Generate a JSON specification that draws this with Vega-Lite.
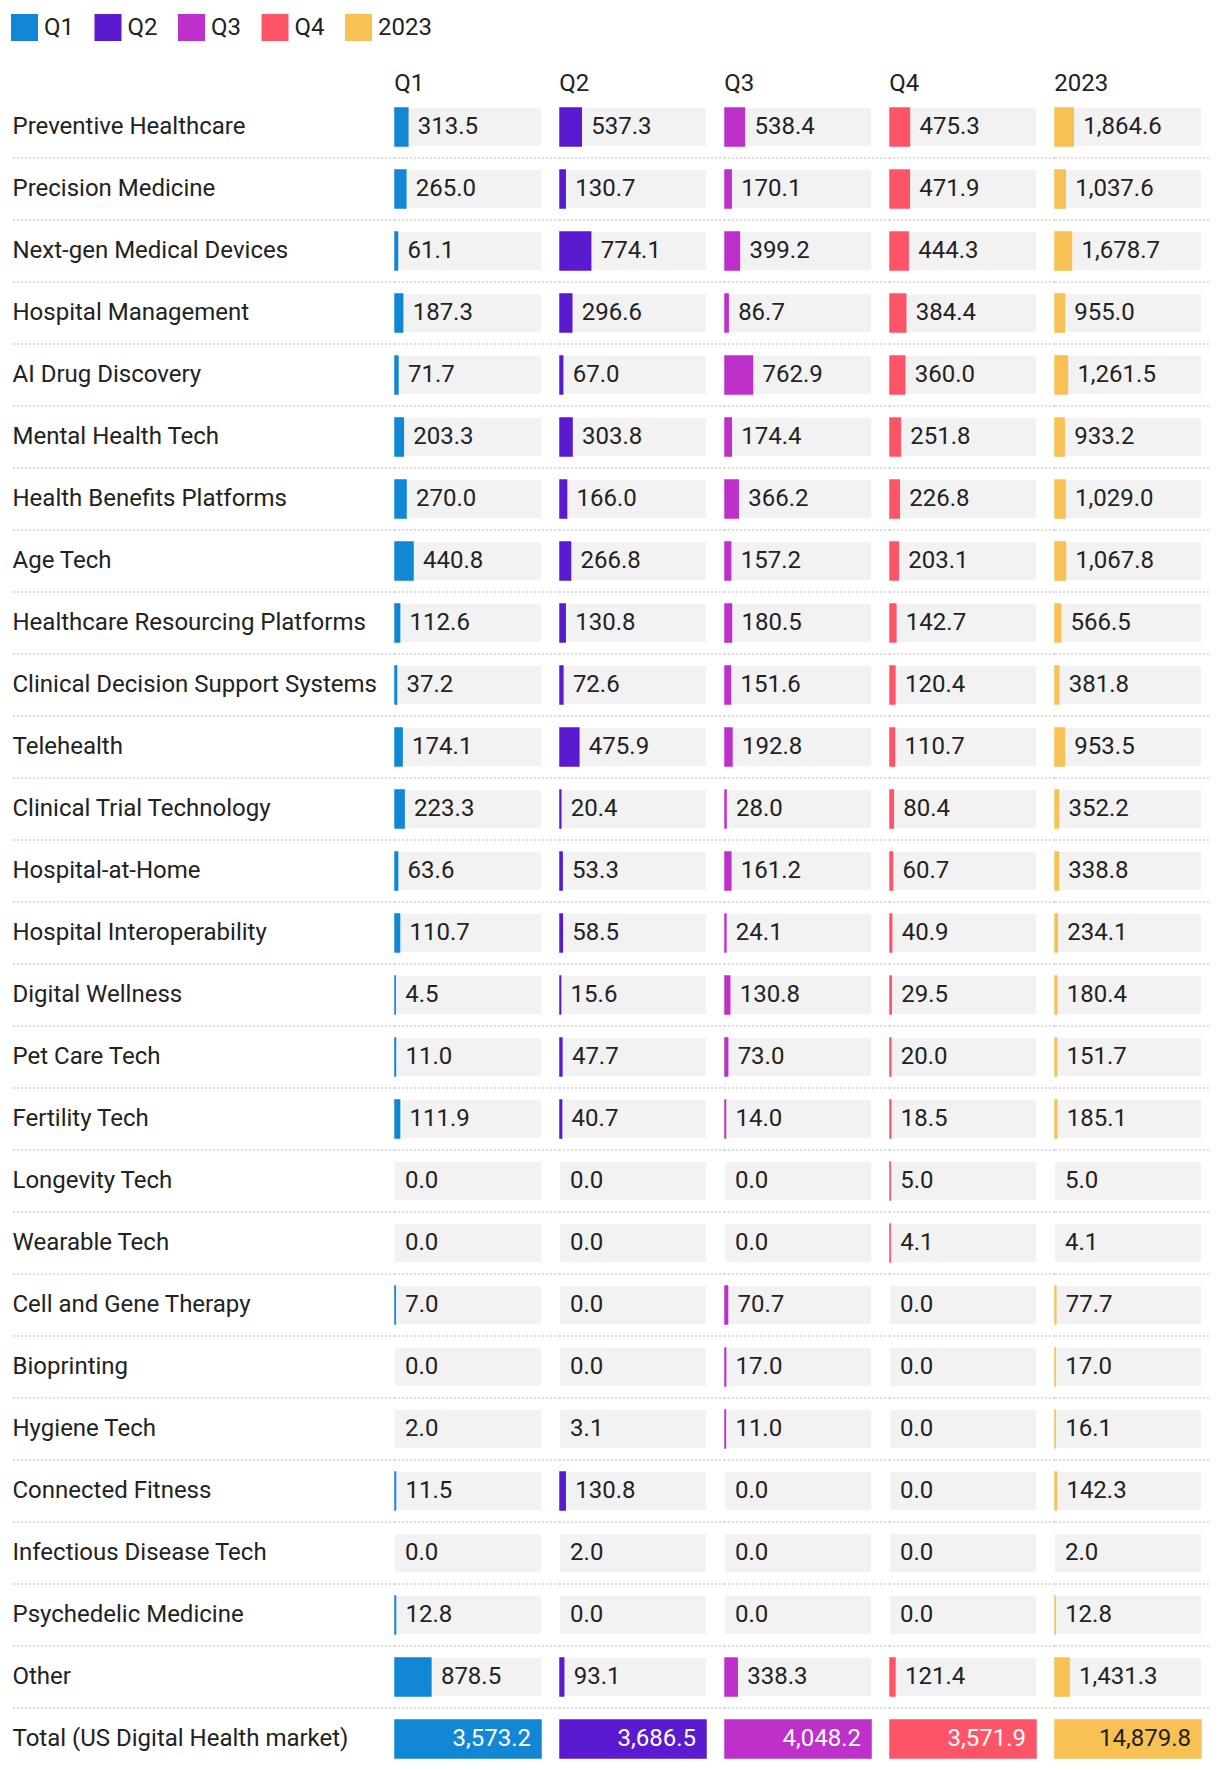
{
  "$schema": "https://vega.github.io/schema/vega-lite/v6.json",
  "padding": {"left": 10, "top": 14, "right": 0, "bottom": 0},
  "bounds": "flush",
  "config": {
    "font": "Roboto",
    "view": {"stroke": null},
    "concat": {"spacing": 0},
    "title": {"anchor": "start", "fontSize": 24, "fontWeight": "normal", "color": "#222", "offset": 0.5, "font": "Roboto"},
    "legend": {"orient": "top", "direction": "horizontal", "title": null, "symbolType": "square", "symbolSize": 729, "symbolStrokeWidth": 0, "labelFontSize": 24, "labelColor": "#222", "labelOffset": 6, "columnPadding": 20.5, "offset": 30, "labelFont": "Roboto"}
  },
  "resolve": {"scale": {"x": "independent", "y": "independent", "color": "shared"}, "legend": {"color": "shared"}},
  "datasets": {
    "d": [
      {"cat": "Preventive Healthcare", "period": "Q1", "value": 313.5},
      {"cat": "Preventive Healthcare", "period": "Q2", "value": 537.3},
      {"cat": "Preventive Healthcare", "period": "Q3", "value": 538.4},
      {"cat": "Preventive Healthcare", "period": "Q4", "value": 475.3},
      {"cat": "Preventive Healthcare", "period": "2023", "value": 1864.6},
      {"cat": "Precision Medicine", "period": "Q1", "value": 265.0},
      {"cat": "Precision Medicine", "period": "Q2", "value": 130.7},
      {"cat": "Precision Medicine", "period": "Q3", "value": 170.1},
      {"cat": "Precision Medicine", "period": "Q4", "value": 471.9},
      {"cat": "Precision Medicine", "period": "2023", "value": 1037.6},
      {"cat": "Next-gen Medical Devices", "period": "Q1", "value": 61.1},
      {"cat": "Next-gen Medical Devices", "period": "Q2", "value": 774.1},
      {"cat": "Next-gen Medical Devices", "period": "Q3", "value": 399.2},
      {"cat": "Next-gen Medical Devices", "period": "Q4", "value": 444.3},
      {"cat": "Next-gen Medical Devices", "period": "2023", "value": 1678.7},
      {"cat": "Hospital Management", "period": "Q1", "value": 187.3},
      {"cat": "Hospital Management", "period": "Q2", "value": 296.6},
      {"cat": "Hospital Management", "period": "Q3", "value": 86.7},
      {"cat": "Hospital Management", "period": "Q4", "value": 384.4},
      {"cat": "Hospital Management", "period": "2023", "value": 955.0},
      {"cat": "AI Drug Discovery", "period": "Q1", "value": 71.7},
      {"cat": "AI Drug Discovery", "period": "Q2", "value": 67.0},
      {"cat": "AI Drug Discovery", "period": "Q3", "value": 762.9},
      {"cat": "AI Drug Discovery", "period": "Q4", "value": 360.0},
      {"cat": "AI Drug Discovery", "period": "2023", "value": 1261.5},
      {"cat": "Mental Health Tech", "period": "Q1", "value": 203.3},
      {"cat": "Mental Health Tech", "period": "Q2", "value": 303.8},
      {"cat": "Mental Health Tech", "period": "Q3", "value": 174.4},
      {"cat": "Mental Health Tech", "period": "Q4", "value": 251.8},
      {"cat": "Mental Health Tech", "period": "2023", "value": 933.2},
      {"cat": "Health Benefits Platforms", "period": "Q1", "value": 270.0},
      {"cat": "Health Benefits Platforms", "period": "Q2", "value": 166.0},
      {"cat": "Health Benefits Platforms", "period": "Q3", "value": 366.2},
      {"cat": "Health Benefits Platforms", "period": "Q4", "value": 226.8},
      {"cat": "Health Benefits Platforms", "period": "2023", "value": 1029.0},
      {"cat": "Age Tech", "period": "Q1", "value": 440.8},
      {"cat": "Age Tech", "period": "Q2", "value": 266.8},
      {"cat": "Age Tech", "period": "Q3", "value": 157.2},
      {"cat": "Age Tech", "period": "Q4", "value": 203.1},
      {"cat": "Age Tech", "period": "2023", "value": 1067.8},
      {"cat": "Healthcare Resourcing Platforms", "period": "Q1", "value": 112.6},
      {"cat": "Healthcare Resourcing Platforms", "period": "Q2", "value": 130.8},
      {"cat": "Healthcare Resourcing Platforms", "period": "Q3", "value": 180.5},
      {"cat": "Healthcare Resourcing Platforms", "period": "Q4", "value": 142.7},
      {"cat": "Healthcare Resourcing Platforms", "period": "2023", "value": 566.5},
      {"cat": "Clinical Decision Support Systems", "period": "Q1", "value": 37.2},
      {"cat": "Clinical Decision Support Systems", "period": "Q2", "value": 72.6},
      {"cat": "Clinical Decision Support Systems", "period": "Q3", "value": 151.6},
      {"cat": "Clinical Decision Support Systems", "period": "Q4", "value": 120.4},
      {"cat": "Clinical Decision Support Systems", "period": "2023", "value": 381.8},
      {"cat": "Telehealth", "period": "Q1", "value": 174.1},
      {"cat": "Telehealth", "period": "Q2", "value": 475.9},
      {"cat": "Telehealth", "period": "Q3", "value": 192.8},
      {"cat": "Telehealth", "period": "Q4", "value": 110.7},
      {"cat": "Telehealth", "period": "2023", "value": 953.5},
      {"cat": "Clinical Trial Technology", "period": "Q1", "value": 223.3},
      {"cat": "Clinical Trial Technology", "period": "Q2", "value": 20.4},
      {"cat": "Clinical Trial Technology", "period": "Q3", "value": 28.0},
      {"cat": "Clinical Trial Technology", "period": "Q4", "value": 80.4},
      {"cat": "Clinical Trial Technology", "period": "2023", "value": 352.2},
      {"cat": "Hospital-at-Home", "period": "Q1", "value": 63.6},
      {"cat": "Hospital-at-Home", "period": "Q2", "value": 53.3},
      {"cat": "Hospital-at-Home", "period": "Q3", "value": 161.2},
      {"cat": "Hospital-at-Home", "period": "Q4", "value": 60.7},
      {"cat": "Hospital-at-Home", "period": "2023", "value": 338.8},
      {"cat": "Hospital Interoperability", "period": "Q1", "value": 110.7},
      {"cat": "Hospital Interoperability", "period": "Q2", "value": 58.5},
      {"cat": "Hospital Interoperability", "period": "Q3", "value": 24.1},
      {"cat": "Hospital Interoperability", "period": "Q4", "value": 40.9},
      {"cat": "Hospital Interoperability", "period": "2023", "value": 234.1},
      {"cat": "Digital Wellness", "period": "Q1", "value": 4.5},
      {"cat": "Digital Wellness", "period": "Q2", "value": 15.6},
      {"cat": "Digital Wellness", "period": "Q3", "value": 130.8},
      {"cat": "Digital Wellness", "period": "Q4", "value": 29.5},
      {"cat": "Digital Wellness", "period": "2023", "value": 180.4},
      {"cat": "Pet Care Tech", "period": "Q1", "value": 11.0},
      {"cat": "Pet Care Tech", "period": "Q2", "value": 47.7},
      {"cat": "Pet Care Tech", "period": "Q3", "value": 73.0},
      {"cat": "Pet Care Tech", "period": "Q4", "value": 20.0},
      {"cat": "Pet Care Tech", "period": "2023", "value": 151.7},
      {"cat": "Fertility Tech", "period": "Q1", "value": 111.9},
      {"cat": "Fertility Tech", "period": "Q2", "value": 40.7},
      {"cat": "Fertility Tech", "period": "Q3", "value": 14.0},
      {"cat": "Fertility Tech", "period": "Q4", "value": 18.5},
      {"cat": "Fertility Tech", "period": "2023", "value": 185.1},
      {"cat": "Longevity Tech", "period": "Q1", "value": 0.0},
      {"cat": "Longevity Tech", "period": "Q2", "value": 0.0},
      {"cat": "Longevity Tech", "period": "Q3", "value": 0.0},
      {"cat": "Longevity Tech", "period": "Q4", "value": 5.0},
      {"cat": "Longevity Tech", "period": "2023", "value": 5.0},
      {"cat": "Wearable Tech", "period": "Q1", "value": 0.0},
      {"cat": "Wearable Tech", "period": "Q2", "value": 0.0},
      {"cat": "Wearable Tech", "period": "Q3", "value": 0.0},
      {"cat": "Wearable Tech", "period": "Q4", "value": 4.1},
      {"cat": "Wearable Tech", "period": "2023", "value": 4.1},
      {"cat": "Cell and Gene Therapy", "period": "Q1", "value": 7.0},
      {"cat": "Cell and Gene Therapy", "period": "Q2", "value": 0.0},
      {"cat": "Cell and Gene Therapy", "period": "Q3", "value": 70.7},
      {"cat": "Cell and Gene Therapy", "period": "Q4", "value": 0.0},
      {"cat": "Cell and Gene Therapy", "period": "2023", "value": 77.7},
      {"cat": "Bioprinting", "period": "Q1", "value": 0.0},
      {"cat": "Bioprinting", "period": "Q2", "value": 0.0},
      {"cat": "Bioprinting", "period": "Q3", "value": 17.0},
      {"cat": "Bioprinting", "period": "Q4", "value": 0.0},
      {"cat": "Bioprinting", "period": "2023", "value": 17.0},
      {"cat": "Hygiene Tech", "period": "Q1", "value": 2.0},
      {"cat": "Hygiene Tech", "period": "Q2", "value": 3.1},
      {"cat": "Hygiene Tech", "period": "Q3", "value": 11.0},
      {"cat": "Hygiene Tech", "period": "Q4", "value": 0.0},
      {"cat": "Hygiene Tech", "period": "2023", "value": 16.1},
      {"cat": "Connected Fitness", "period": "Q1", "value": 11.5},
      {"cat": "Connected Fitness", "period": "Q2", "value": 130.8},
      {"cat": "Connected Fitness", "period": "Q3", "value": 0.0},
      {"cat": "Connected Fitness", "period": "Q4", "value": 0.0},
      {"cat": "Connected Fitness", "period": "2023", "value": 142.3},
      {"cat": "Infectious Disease Tech", "period": "Q1", "value": 0.0},
      {"cat": "Infectious Disease Tech", "period": "Q2", "value": 2.0},
      {"cat": "Infectious Disease Tech", "period": "Q3", "value": 0.0},
      {"cat": "Infectious Disease Tech", "period": "Q4", "value": 0.0},
      {"cat": "Infectious Disease Tech", "period": "2023", "value": 2.0},
      {"cat": "Psychedelic Medicine", "period": "Q1", "value": 12.8},
      {"cat": "Psychedelic Medicine", "period": "Q2", "value": 0.0},
      {"cat": "Psychedelic Medicine", "period": "Q3", "value": 0.0},
      {"cat": "Psychedelic Medicine", "period": "Q4", "value": 0.0},
      {"cat": "Psychedelic Medicine", "period": "2023", "value": 12.8},
      {"cat": "Other", "period": "Q1", "value": 878.5},
      {"cat": "Other", "period": "Q2", "value": 93.1},
      {"cat": "Other", "period": "Q3", "value": 338.3},
      {"cat": "Other", "period": "Q4", "value": 121.4},
      {"cat": "Other", "period": "2023", "value": 1431.3},
      {"cat": "Total (US Digital Health market)", "period": "Q1", "value": 3573.2},
      {"cat": "Total (US Digital Health market)", "period": "Q2", "value": 3686.5},
      {"cat": "Total (US Digital Health market)", "period": "Q3", "value": 4048.2},
      {"cat": "Total (US Digital Health market)", "period": "Q4", "value": 3571.9},
      {"cat": "Total (US Digital Health market)", "period": "2023", "value": 14879.8}
    ]
  },
  "hconcat": [
    {
      "width": 384, "height": 1674,
      "title": {"text": " "},
      "data": {"name": "d"},
      "transform": [{"filter": "datum.period === 'Q1'"}],
      "layer": [
        {
          "mark": {"type": "rule", "color": "#d2d2d2", "strokeDash": [2, 2], "strokeWidth": 1.5},
          "encoding": {
            "y": {"field": "cat", "type": "nominal", "sort": null, "bandPosition": 1.316, "scale": {"paddingInner": 0.387, "paddingOuter": 0.194},
              "axis": {"title": null, "domain": false, "ticks": false, "bandPosition": 0.5, "labelAlign": "left", "labelBaseline": "middle", "labelPadding": -1, "labelFontSize": 24, "labelColor": "#222", "labelLimit": 500, "labelFont": "Roboto"}},
            "strokeOpacity": {"condition": {"test": "datum.cat === 'Total (US Digital Health market)'", "value": 0}, "value": 1}
          }
        }
      ]
    },
    {
      "width": 165, "height": 1674,
      "title": {"text": "Q1"},
      "data": {"name": "d"},
      "transform": [{"filter": "datum.period === 'Q1'"}, {"joinaggregate": [{"op": "max", "field": "value", "as": "colTotal"}]}],
      "encoding": {"y": {"field": "cat", "type": "nominal", "sort": null, "axis": null, "scale": {"paddingInner": 0.387, "paddingOuter": 0.194}}},
      "layer": [
        {"mark": {"type": "rule", "color": "#d2d2d2", "strokeDash": [2, 2], "strokeWidth": 1.5}, "encoding": {"y": {"field": "cat", "type": "nominal", "sort": null, "axis": null, "bandPosition": 1.316}, "strokeOpacity": {"condition": {"test": "datum.cat === 'Total (US Digital Health market)'", "value": 0}, "value": 1}}},
        {"mark": {"type": "bar", "color": "#f2f2f2"}, "encoding": {"x": {"field": "colTotal", "type": "quantitative", "axis": null, "scale": {"range": [0, 146], "nice": false, "zero": true}}}},
        {"transform": [{"filter": "datum.value / datum.colTotal > 0.00085"}], "mark": {"type": "bar", "stroke": "#1287d5", "strokeWidth": 1.5}, "encoding": {"x": {"field": "value", "type": "quantitative", "axis": null}, "color": {"field": "period", "type": "nominal", "scale": {"domain": ["Q1", "Q2", "Q3", "Q4", "2023"], "range": ["#1287d5", "#5a1acf", "#bf2fca", "#fe5468", "#f7c154"]}}}},
        {"transform": [{"filter": "datum.cat !== 'Total (US Digital Health market)'"}], "mark": {"type": "text", "align": "left", "baseline": "middle", "dx": 10, "fontSize": 24, "color": "#222"}, "encoding": {"x": {"field": "value", "type": "quantitative", "axis": null}, "text": {"field": "value", "type": "quantitative", "format": ",.1f"}}},
        {"transform": [{"filter": "datum.cat === 'Total (US Digital Health market)'"}], "mark": {"type": "text", "align": "right", "baseline": "middle", "dx": -10, "fontSize": 24, "color": "#ffffff"}, "encoding": {"x": {"field": "value", "type": "quantitative", "axis": null}, "text": {"field": "value", "type": "quantitative", "format": ",.1f"}}}
      ]
    },
    {
      "width": 165, "height": 1674,
      "title": {"text": "Q2"},
      "data": {"name": "d"},
      "transform": [{"filter": "datum.period === 'Q2'"}, {"joinaggregate": [{"op": "max", "field": "value", "as": "colTotal"}]}],
      "encoding": {"y": {"field": "cat", "type": "nominal", "sort": null, "axis": null, "scale": {"paddingInner": 0.387, "paddingOuter": 0.194}}},
      "layer": [
        {"mark": {"type": "rule", "color": "#d2d2d2", "strokeDash": [2, 2], "strokeWidth": 1.5}, "encoding": {"y": {"field": "cat", "type": "nominal", "sort": null, "axis": null, "bandPosition": 1.316}, "strokeOpacity": {"condition": {"test": "datum.cat === 'Total (US Digital Health market)'", "value": 0}, "value": 1}}},
        {"mark": {"type": "bar", "color": "#f2f2f2"}, "encoding": {"x": {"field": "colTotal", "type": "quantitative", "axis": null, "scale": {"range": [0, 146], "nice": false, "zero": true}}}},
        {"transform": [{"filter": "datum.value / datum.colTotal > 0.00085"}], "mark": {"type": "bar", "stroke": "#5a1acf", "strokeWidth": 1.5}, "encoding": {"x": {"field": "value", "type": "quantitative", "axis": null}, "color": {"field": "period", "type": "nominal", "scale": {"domain": ["Q1", "Q2", "Q3", "Q4", "2023"], "range": ["#1287d5", "#5a1acf", "#bf2fca", "#fe5468", "#f7c154"]}}}},
        {"transform": [{"filter": "datum.cat !== 'Total (US Digital Health market)'"}], "mark": {"type": "text", "align": "left", "baseline": "middle", "dx": 10, "fontSize": 24, "color": "#222"}, "encoding": {"x": {"field": "value", "type": "quantitative", "axis": null}, "text": {"field": "value", "type": "quantitative", "format": ",.1f"}}},
        {"transform": [{"filter": "datum.cat === 'Total (US Digital Health market)'"}], "mark": {"type": "text", "align": "right", "baseline": "middle", "dx": -10, "fontSize": 24, "color": "#ffffff"}, "encoding": {"x": {"field": "value", "type": "quantitative", "axis": null}, "text": {"field": "value", "type": "quantitative", "format": ",.1f"}}}
      ]
    },
    {
      "width": 165, "height": 1674,
      "title": {"text": "Q3"},
      "data": {"name": "d"},
      "transform": [{"filter": "datum.period === 'Q3'"}, {"joinaggregate": [{"op": "max", "field": "value", "as": "colTotal"}]}],
      "encoding": {"y": {"field": "cat", "type": "nominal", "sort": null, "axis": null, "scale": {"paddingInner": 0.387, "paddingOuter": 0.194}}},
      "layer": [
        {"mark": {"type": "rule", "color": "#d2d2d2", "strokeDash": [2, 2], "strokeWidth": 1.5}, "encoding": {"y": {"field": "cat", "type": "nominal", "sort": null, "axis": null, "bandPosition": 1.316}, "strokeOpacity": {"condition": {"test": "datum.cat === 'Total (US Digital Health market)'", "value": 0}, "value": 1}}},
        {"mark": {"type": "bar", "color": "#f2f2f2"}, "encoding": {"x": {"field": "colTotal", "type": "quantitative", "axis": null, "scale": {"range": [0, 146], "nice": false, "zero": true}}}},
        {"transform": [{"filter": "datum.value / datum.colTotal > 0.00085"}], "mark": {"type": "bar", "stroke": "#bf2fca", "strokeWidth": 1.5}, "encoding": {"x": {"field": "value", "type": "quantitative", "axis": null}, "color": {"field": "period", "type": "nominal", "scale": {"domain": ["Q1", "Q2", "Q3", "Q4", "2023"], "range": ["#1287d5", "#5a1acf", "#bf2fca", "#fe5468", "#f7c154"]}}}},
        {"transform": [{"filter": "datum.cat !== 'Total (US Digital Health market)'"}], "mark": {"type": "text", "align": "left", "baseline": "middle", "dx": 10, "fontSize": 24, "color": "#222"}, "encoding": {"x": {"field": "value", "type": "quantitative", "axis": null}, "text": {"field": "value", "type": "quantitative", "format": ",.1f"}}},
        {"transform": [{"filter": "datum.cat === 'Total (US Digital Health market)'"}], "mark": {"type": "text", "align": "right", "baseline": "middle", "dx": -10, "fontSize": 24, "color": "#ffffff"}, "encoding": {"x": {"field": "value", "type": "quantitative", "axis": null}, "text": {"field": "value", "type": "quantitative", "format": ",.1f"}}}
      ]
    },
    {
      "width": 165, "height": 1674,
      "title": {"text": "Q4"},
      "data": {"name": "d"},
      "transform": [{"filter": "datum.period === 'Q4'"}, {"joinaggregate": [{"op": "max", "field": "value", "as": "colTotal"}]}],
      "encoding": {"y": {"field": "cat", "type": "nominal", "sort": null, "axis": null, "scale": {"paddingInner": 0.387, "paddingOuter": 0.194}}},
      "layer": [
        {"mark": {"type": "rule", "color": "#d2d2d2", "strokeDash": [2, 2], "strokeWidth": 1.5}, "encoding": {"y": {"field": "cat", "type": "nominal", "sort": null, "axis": null, "bandPosition": 1.316}, "strokeOpacity": {"condition": {"test": "datum.cat === 'Total (US Digital Health market)'", "value": 0}, "value": 1}}},
        {"mark": {"type": "bar", "color": "#f2f2f2"}, "encoding": {"x": {"field": "colTotal", "type": "quantitative", "axis": null, "scale": {"range": [0, 146], "nice": false, "zero": true}}}},
        {"transform": [{"filter": "datum.value / datum.colTotal > 0.00085"}], "mark": {"type": "bar", "stroke": "#fe5468", "strokeWidth": 1.5}, "encoding": {"x": {"field": "value", "type": "quantitative", "axis": null}, "color": {"field": "period", "type": "nominal", "scale": {"domain": ["Q1", "Q2", "Q3", "Q4", "2023"], "range": ["#1287d5", "#5a1acf", "#bf2fca", "#fe5468", "#f7c154"]}}}},
        {"transform": [{"filter": "datum.cat !== 'Total (US Digital Health market)'"}], "mark": {"type": "text", "align": "left", "baseline": "middle", "dx": 10, "fontSize": 24, "color": "#222"}, "encoding": {"x": {"field": "value", "type": "quantitative", "axis": null}, "text": {"field": "value", "type": "quantitative", "format": ",.1f"}}},
        {"transform": [{"filter": "datum.cat === 'Total (US Digital Health market)'"}], "mark": {"type": "text", "align": "right", "baseline": "middle", "dx": -10, "fontSize": 24, "color": "#ffffff"}, "encoding": {"x": {"field": "value", "type": "quantitative", "axis": null}, "text": {"field": "value", "type": "quantitative", "format": ",.1f"}}}
      ]
    },
    {
      "width": 154, "height": 1674,
      "title": {"text": "2023"},
      "data": {"name": "d"},
      "transform": [{"filter": "datum.period === '2023'"}, {"joinaggregate": [{"op": "max", "field": "value", "as": "colTotal"}]}],
      "encoding": {"y": {"field": "cat", "type": "nominal", "sort": null, "axis": null, "scale": {"paddingInner": 0.387, "paddingOuter": 0.194}}},
      "layer": [
        {"mark": {"type": "rule", "color": "#d2d2d2", "strokeDash": [2, 2], "strokeWidth": 1.5}, "encoding": {"y": {"field": "cat", "type": "nominal", "sort": null, "axis": null, "bandPosition": 1.316}, "strokeOpacity": {"condition": {"test": "datum.cat === 'Total (US Digital Health market)'", "value": 0}, "value": 1}}},
        {"mark": {"type": "bar", "color": "#f2f2f2"}, "encoding": {"x": {"field": "colTotal", "type": "quantitative", "axis": null, "scale": {"range": [0, 146], "nice": false, "zero": true}}}},
        {"transform": [{"filter": "datum.value / datum.colTotal > 0.00085"}], "mark": {"type": "bar", "stroke": "#f7c154", "strokeWidth": 1.5}, "encoding": {"x": {"field": "value", "type": "quantitative", "axis": null}, "color": {"field": "period", "type": "nominal", "scale": {"domain": ["Q1", "Q2", "Q3", "Q4", "2023"], "range": ["#1287d5", "#5a1acf", "#bf2fca", "#fe5468", "#f7c154"]}}}},
        {"transform": [{"filter": "datum.cat !== 'Total (US Digital Health market)'"}], "mark": {"type": "text", "align": "left", "baseline": "middle", "dx": 10, "fontSize": 24, "color": "#222"}, "encoding": {"x": {"field": "value", "type": "quantitative", "axis": null}, "text": {"field": "value", "type": "quantitative", "format": ",.1f"}}},
        {"transform": [{"filter": "datum.cat === 'Total (US Digital Health market)'"}], "mark": {"type": "text", "align": "right", "baseline": "middle", "dx": -10, "fontSize": 24, "color": "#222"}, "encoding": {"x": {"field": "value", "type": "quantitative", "axis": null}, "text": {"field": "value", "type": "quantitative", "format": ",.1f"}}}
      ]
    }
  ]
}
